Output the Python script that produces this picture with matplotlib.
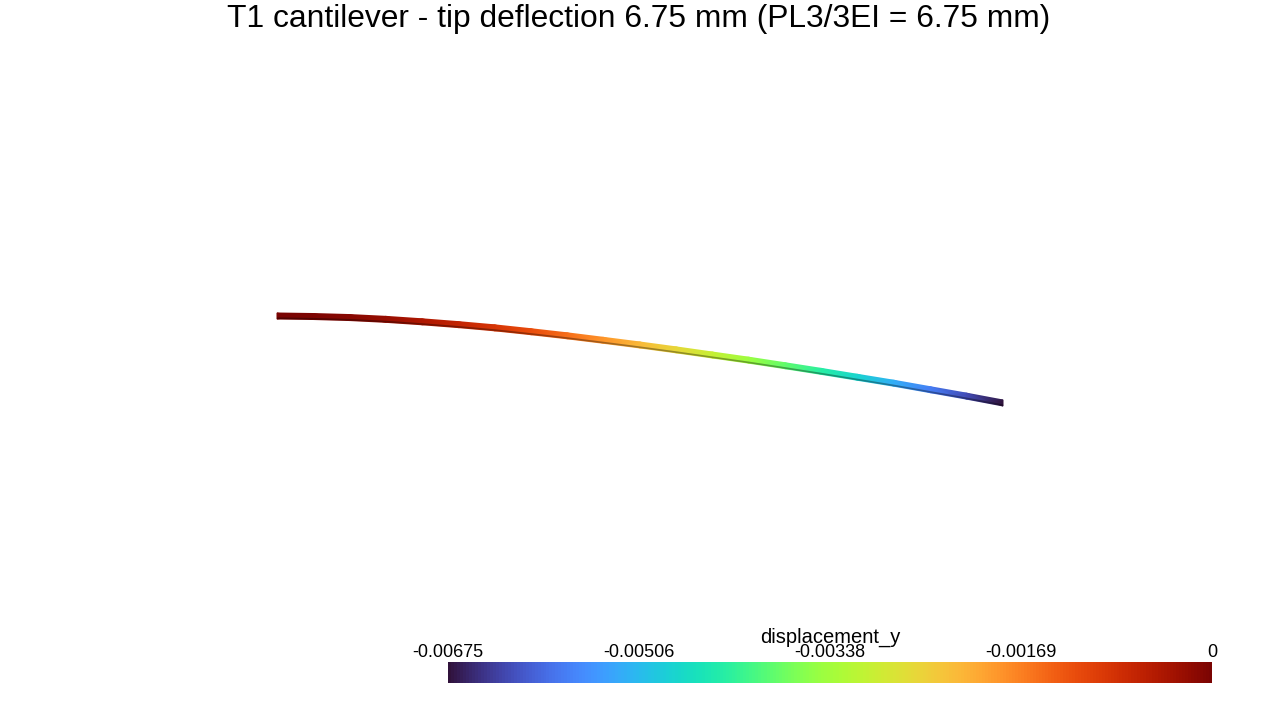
import numpy as np
import matplotlib
matplotlib.use("Agg")
import matplotlib.pyplot as plt
from matplotlib.cm import ScalarMappable
from matplotlib.colors import Normalize

# beam centreline (mm)
beam_x = [0.00, 0.05, 0.10, 0.15, 0.20, 0.25, 0.30, 0.35, 0.40, 0.45, 0.50,
          0.55, 0.60, 0.65, 0.70, 0.75, 0.80, 0.85, 0.90, 0.95, 1.00]
beam_uy = [0.0, -0.04, -0.12, -0.26, -0.45, -0.67, -0.92, -1.22, -1.54, -1.89, -2.25,
           -2.63, -3.03, -3.43, -3.86, -4.30, -4.76, -5.22, -5.72, -6.22, -6.75]

bar_ticks = [-0.00675, -0.00506, -0.00338, -0.00169, 0]
bar_labels = ["-0.00675", "-0.00506", "-0.00338", "-0.00169", "0"]

title = "T1 cantilever - tip deflection 6.75 mm (PL3/3EI = 6.75 mm)"
bar_title = "displacement_y"

plt.rcParams["font.family"] = ["Liberation Sans", "DejaVu Sans"]
W, H = 1280, 720
fig = plt.figure(figsize=(W / 100, H / 100), dpi=100, facecolor="white")

# beam axes fill the figure, scales chosen so the beam lands on the right pixels
ax = fig.add_axes([0, 0, 1, 1])
px_x = 726.0
px_y = 87.0 / 6.75
ax.set_xlim(-277 / px_x, (W - 277) / px_x)
ax.set_ylim(-(H - 316) / px_y, 316 / px_y)
ax.axis("off")

x = np.array(beam_x)
uy = np.array(beam_uy)
half = 3.0 / px_y
xx = np.vstack([x, x])
yy = np.vstack([uy - half, uy + half])
cc = np.vstack([uy, uy]) / 1000.0
norm = Normalize(-0.00675, 0)
ax.pcolormesh(xx, yy, cc, cmap="turbo", norm=norm, shading="gouraud")
# dark underside of the beam
ax.plot(x, uy - half * 0.75, color="black", lw=1.2, alpha=0.35, solid_capstyle="butt")

fig.text(638.5 / W, 1 - 19 / H, title, ha="center", va="center",
         fontsize=22.85, color="black")

# scalar bar
cax = fig.add_axes([448 / W, 1 - 683 / H, (1212 - 448) / W, 21 / H])
cb = fig.colorbar(ScalarMappable(norm=norm, cmap="turbo"), cax=cax, orientation="horizontal")
cb.outline.set_visible(False)
cb.set_ticks(bar_ticks)
cb.set_ticklabels(bar_labels)
cax.xaxis.set_ticks_position("top")
cax.tick_params(length=0, pad=1, labelsize=13, colors="black")
fig.text(830.5 / W, 1 - 637 / H, bar_title, ha="center", va="center",
         fontsize=14.5, color="black")

fig.savefig("out.png", dpi=100)
